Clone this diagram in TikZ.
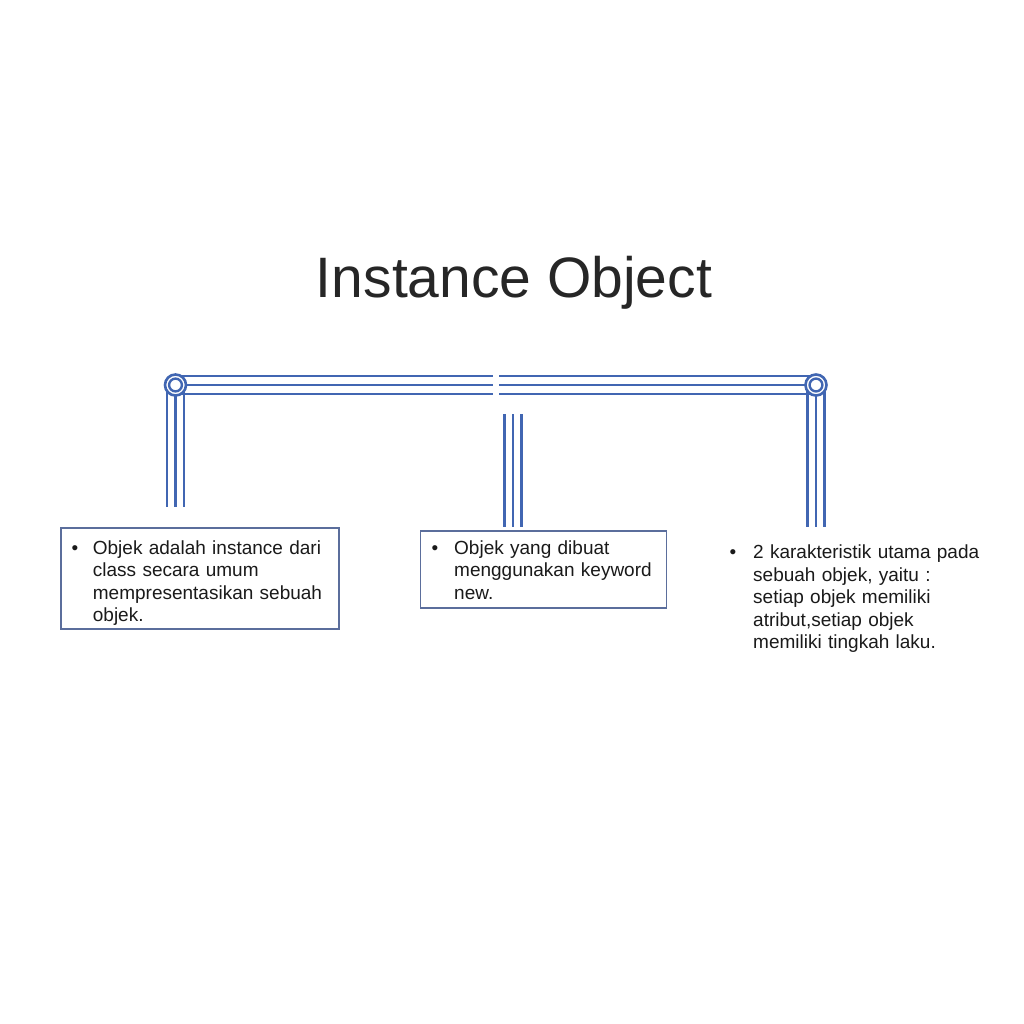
\documentclass[tikz,border=0pt]{standalone}
\usepackage{fontspec}
\setmainfont{Liberation Sans}
\definecolor{barc}{HTML}{4166B2}
\definecolor{boxc}{HTML}{5B6E9C}
\definecolor{ink}{HTML}{1A1A1A}
\definecolor{titlec}{HTML}{262626}
\begin{document}
\begin{tikzpicture}[x=1pt,y=-1pt,
  barline/.style={draw=barc, line width=2.6pt},
  ring/.style={circle, draw=barc, line width=2.6pt, fill=white, minimum size=21pt, inner sep=0pt},
  body/.style={font=\fontsize{19}{22.5}\selectfont, text=ink, align=left, inner sep=0pt, anchor=base west, text width=250pt},
  bul/.style={font=\fontsize{19}{22.5}\selectfont, text=ink, inner sep=0pt, anchor=base},
  frame/.style={draw=boxc, line width=1.1pt, inner sep=0pt}]
\useasboundingbox (0,0) rectangle (1024,1024);
\fill[white] (0,0) rectangle (1024,1024);

% title
\node[font=\fontsize{57}{60}\selectfont, text=titlec, inner sep=0pt] (title) at (514,283) {Instance Object};

% corner and junction coordinates
\coordinate (cl) at (175.5,385);
\coordinate (cr) at (816,385);
\coordinate (gl) at (493,385);
\coordinate (gr) at (499,385);
\coordinate (lb) at (175.5,507);
\coordinate (rb) at (816,527);
\coordinate (mt) at (513,414);
\coordinate (mb) at (513,527);

% horizontal triple bars
\foreach \dy in {-9,0,9} {
  \draw[barline] ([yshift=\dy pt]cl) -- ([yshift=\dy pt]gl);
  \draw[barline] ([yshift=\dy pt]gr) -- ([yshift=\dy pt]cr);
}
% vertical triple bars
\foreach \dx in {-8.5,0,8.5} {
  \draw[barline] ([xshift=\dx pt]cl) -- ([xshift=\dx pt]lb);
  \draw[barline] ([xshift=\dx pt]cr) -- ([xshift=\dx pt]rb);
  \draw[barline] ([xshift=\dx pt]mt) -- ([xshift=\dx pt]mb);
}
% rings
\node[ring] (ringl) at (cl) {};
\node[ring] (ringr) at (cr) {};
\draw[barc, line width=2.4pt] (ringl.center) circle (6.4);
\draw[barc, line width=2.4pt] (ringr.center) circle (6.4);

% boxes
\node[frame, minimum width=278pt, minimum height=101pt] (box1) at (200,578.5) {};
\node[frame, minimum width=246pt, minimum height=77pt] (box2) at (543.5,569.5) {};

% box 1 text
\node[bul] (b1) at (75,554) {•};
\node[body] (t1) at (92.7,554) {Objek adalah instance dari\\class secara umum\\mempresentasikan sebuah\\objek.};

% box 2 text
\node[bul] (b2) at (435,554) {•};
\node[body] (t2) at (454,554) {Objek yang dibuat\\menggunakan keyword\\new.};

% third text
\node[bul] (b3) at (733,558.5) {•};
\node[body] (t3) at (753,558.5) {2 karakteristik utama pada\\sebuah objek, yaitu :\\setiap objek memiliki\\atribut,setiap objek\\memiliki tingkah laku.};
\end{tikzpicture}
\end{document}
